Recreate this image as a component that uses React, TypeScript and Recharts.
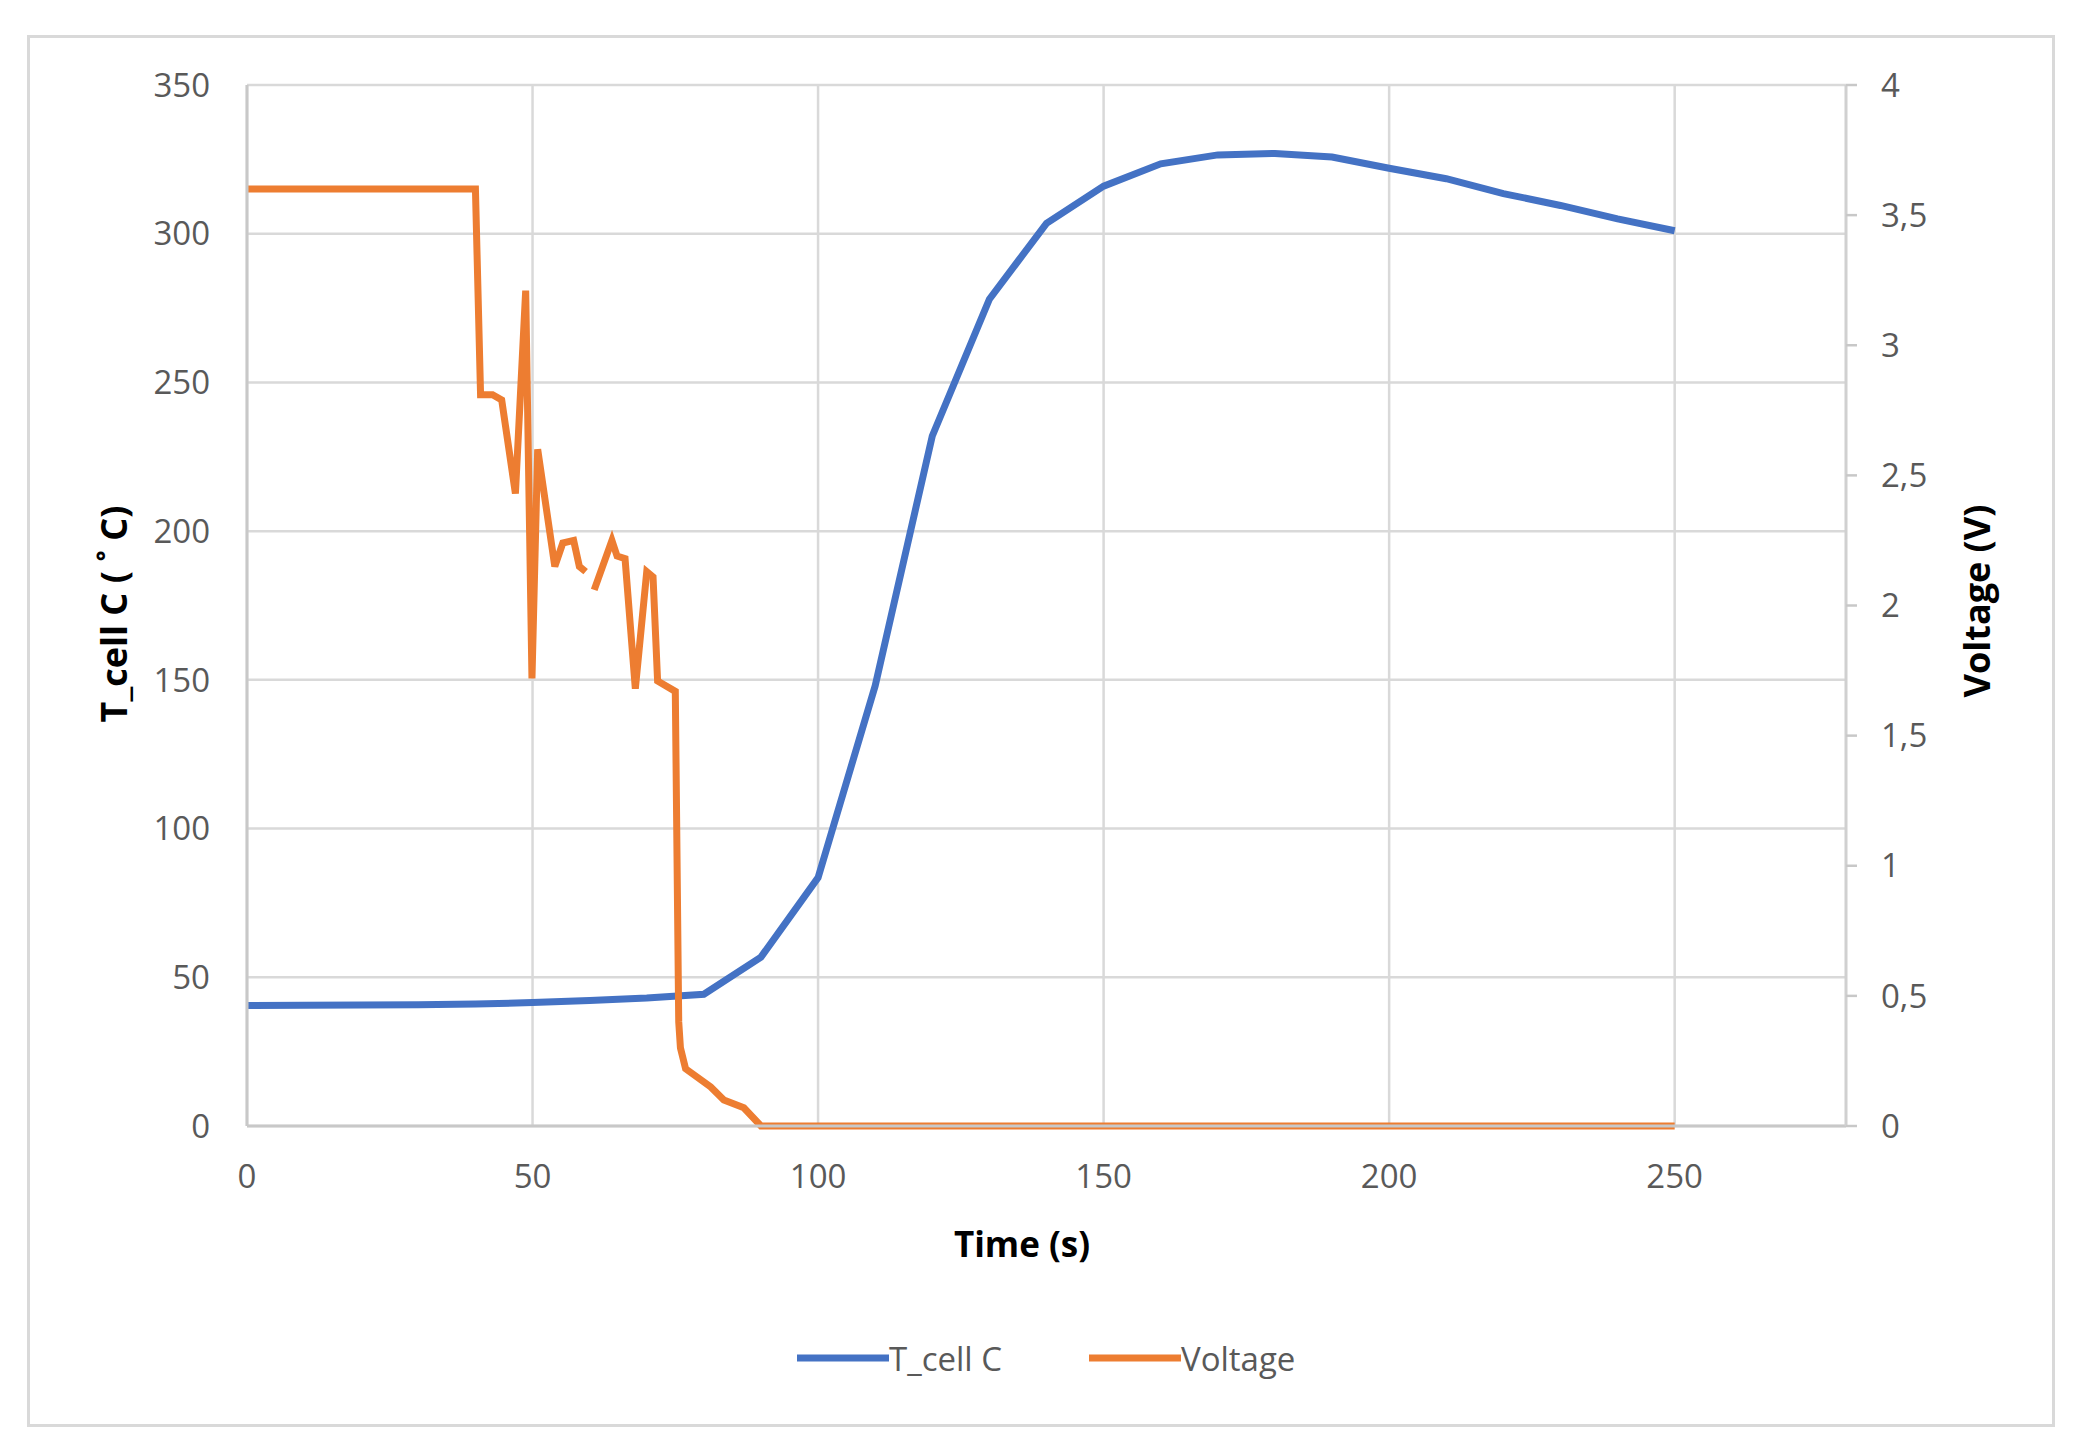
import { LineChart, Line, XAxis, YAxis, CartesianGrid } from "recharts"

// cell temperature, sampled every 10 s
const tempTime = [0, 10, 20, 30, 40, 50, 60, 70, 80, 90, 100, 110, 120, 130, 140, 150, 160, 170, 180, 190, 200, 210, 220, 230, 240, 250]
const tempC = [40.5, 40.6, 40.7, 40.8, 41.0, 41.5, 42.2, 43.0, 44.3, 56.8, 83.5, 148, 232, 278, 303.5, 316, 323.5, 326.5, 327, 325.8, 322, 318.5, 313.5, 309.5, 305, 301]

// cell voltage, irregular sampling (null = missing sample, line breaks)
const voltTime = [0, 40, 40.9, 43, 44.6, 47, 48.8, 49.9, 50.9, 53.9, 55.3, 57.2, 58.2, 59.3, 60, 60.8, 63.9, 64.8, 66.2, 68, 70, 71.1, 71.9, 75, 75.6, 75.9, 76.8, 81.2, 83.5, 87, 90, 250]
const voltage = [3.6, 3.6, 2.81, 2.81, 2.79, 2.43, 3.21, 1.72, 2.6, 2.15, 2.24, 2.25, 2.15, 2.13, null, 2.06, 2.25, 2.19, 2.18, 1.68, 2.13, 2.11, 1.71, 1.67, 0.4, 0.3, 0.22, 0.15, 0.1, 0.07, 0, 0]

const xTicks = [0, 50, 100, 150, 200, 250]
const tempTicks = [0, 50, 100, 150, 200, 250, 300, 350]
const voltTicks = [0, 0.5, 1, 1.5, 2, 2.5, 3, 3.5, 4]

const tempData = tempTime.map((t, i) => ({ t, temp: tempC[i] }))
const voltData = voltTime.map((t, i) => ({ t, volt: voltage[i] }))

const FONT = "'Open Sans', 'Noto Sans', sans-serif"
const tickStyle = { fill: "#595959", fontSize: 33, fontFamily: FONT }
const BLUE = "#4472C4"
const ORANGE = "#ED7D31"

export default function App() {
  return (
    <div style={{ position: "absolute", left: 0, top: 0, width: 2084, height: 1456, background: "#fff", fontFamily: FONT }}>
      <div
        style={{
          position: "absolute",
          left: 27,
          top: 35,
          width: 2028,
          height: 1392,
          border: "3px solid #d9d9d9",
          boxSizing: "border-box",
        }}
      />
      <div style={{ position: "absolute", left: 0, top: 0 }}>
        <LineChart width={2084} height={1456} margin={{ top: 85, left: 147, right: 88, bottom: 250 }}>
          <CartesianGrid yAxisId="left" stroke="#d9d9d9" strokeWidth={2.5} verticalValues={xTicks} />
          <XAxis
            dataKey="t"
            type="number"
            domain={[0, 280]}
            ticks={xTicks}
            allowDataOverflow
            height={80}
            tickSize={0}
            tickMargin={39}
            tick={tickStyle}
            axisLine={{ stroke: "#c8c8c8", strokeWidth: 3 }}
            tickLine={false}
          />
          <YAxis
            yAxisId="left"
            domain={[0, 350]}
            ticks={tempTicks}
            width={100}
            tickSize={0}
            tickMargin={37}
            tick={tickStyle}
            axisLine={{ stroke: "#c8c8c8", strokeWidth: 3 }}
            tickLine={false}
          />
          <YAxis
            yAxisId="right"
            orientation="right"
            domain={[0, 4]}
            ticks={voltTicks}
            width={150}
            tickSize={11}
            tickMargin={24}
            tick={tickStyle}
            tickFormatter={(v: number) => String(v).replace(".", ",")}
            axisLine={{ stroke: "#d0d0d0", strokeWidth: 3 }}
            tickLine={{ stroke: "#c8c8c8", strokeWidth: 2.5 }}
          />
          <Line
            yAxisId="left"
            data={tempData}
            dataKey="temp"
            type="linear"
            stroke={BLUE}
            strokeWidth={7}
            dot={false}
            isAnimationActive={false}
          />
          <Line
            yAxisId="right"
            data={voltData}
            dataKey="volt"
            type="linear"
            stroke={ORANGE}
            strokeWidth={7}
            dot={false}
            connectNulls={false}
            isAnimationActive={false}
          />
        </LineChart>
      </div>

      {/* axis titles */}
      <div
        style={{
          position: "absolute",
          left: 1022,
          top: 1243,
          transform: "translate(-50%, -50%)",
          fontWeight: 700,
          fontSize: 35,
          color: "#000",
          whiteSpace: "nowrap",
        }}
      >
        Time (s)
      </div>
      <div
        style={{
          position: "absolute",
          left: 113,
          top: 614,
          transform: "translate(-50%, -50%) rotate(-90deg)",
          fontWeight: 700,
          fontSize: 36,
          color: "#000",
          whiteSpace: "nowrap",
        }}
      >
        T_cell C ( ˚ C)
      </div>
      <div
        style={{
          position: "absolute",
          left: 1976,
          top: 601,
          transform: "translate(-50%, -50%) rotate(-90deg)",
          fontWeight: 700,
          fontSize: 36,
          color: "#000",
          whiteSpace: "nowrap",
        }}
      >
        Voltage (V)
      </div>

      {/* legend */}
      <div style={{ position: "absolute", left: 797, top: 1358, display: "flex", alignItems: "center", transform: "translateY(-50%)" }}>
        <div style={{ width: 92, height: 7, background: BLUE }} />
        <span style={{ fontSize: 33, color: "#595959", marginRight: 87 }}>T_cell C</span>
        <div style={{ width: 92, height: 7, background: ORANGE }} />
        <span style={{ fontSize: 33, color: "#595959" }}>Voltage</span>
      </div>
    </div>
  )
}
